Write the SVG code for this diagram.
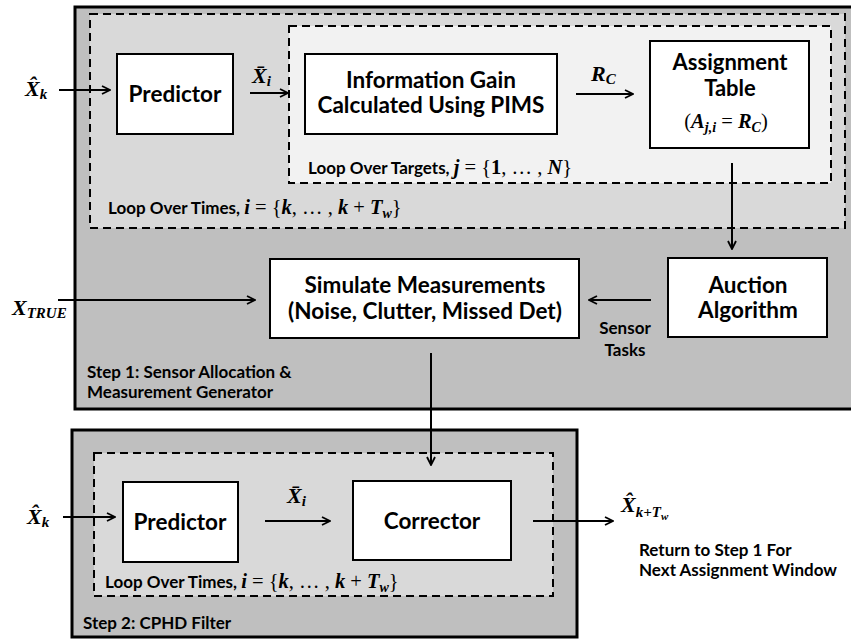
<svg xmlns="http://www.w3.org/2000/svg" width="851" height="639" viewBox="0 0 851 639">
<defs>
<marker id="ah" viewBox="0 0 10 10" refX="9" refY="5" markerWidth="10" markerHeight="10" markerUnits="userSpaceOnUse" orient="auto">
<path d="M1,1 L9,5 L1,9" fill="none" stroke="#000" stroke-width="1.8"/>
</marker>
<style>
.step{fill:#bfbfbf;stroke:#000;stroke-width:3}
.loop{fill:#d9d9d9;stroke:#000;stroke-width:2;stroke-dasharray:8 5}
.loop2{fill:#f2f2f2;stroke:#000;stroke-width:2;stroke-dasharray:8 5}
.box{fill:#fff;stroke:#000;stroke-width:2}
.t{font-family:"Lato","Liberation Sans",sans-serif;font-weight:bold;font-size:22.5px;fill:#000;text-anchor:middle}
.s{font-family:"Lato","Liberation Sans",sans-serif;font-weight:bold;font-size:17px;fill:#000}
.m{font-family:"Liberation Serif",serif;font-weight:bold;font-style:italic;font-size:22px;fill:#000}
.mi{font-family:"Liberation Serif",serif;font-weight:bold;font-style:italic}
.mn{font-family:"Liberation Serif",serif;font-style:normal;font-weight:normal}
.sub{font-size:15px}
.lm{font-size:20.5px}
.ls{font-size:14px}
.c line{stroke:#000;stroke-width:2;marker-end:url(#ah)}
</style>
</defs>
<g id="step1">
<rect class="step" x="75" y="7" width="795" height="402"/>
<text class="s" x="87" y="378">Step 1: Sensor Allocation &amp;</text>
<text class="s" x="87" y="398">Measurement Generator</text>
</g>
<g id="loop-times-1">
<rect class="loop" x="90" y="14" width="755" height="214"/>
<text class="s" x="108" y="214">Loop Over Times, <tspan class="mi lm">i</tspan><tspan class="mn lm"> = {</tspan><tspan class="mi lm">k</tspan><tspan class="mn lm">, … , </tspan><tspan class="mi lm">k</tspan><tspan class="mn lm"> + </tspan><tspan class="mi lm">T</tspan><tspan class="mi ls" dy="4">w</tspan><tspan class="mn lm" dy="-4">}</tspan></text>
</g>
<g id="loop-targets">
<rect class="loop2" x="289" y="26" width="542" height="157"/>
<text class="s" x="308" y="174">Loop Over Targets, <tspan class="mi lm">j</tspan><tspan class="mn lm"> = {</tspan><tspan class="mn lm" style="font-weight:bold">1</tspan><tspan class="mn lm">, … , </tspan><tspan class="mi lm">N</tspan><tspan class="mn lm">}</tspan></text>
</g>
<g id="predictor1">
<rect class="box" x="117" y="54" width="116" height="80"/>
<text class="t" x="175" y="102">Predictor</text>
</g>
<g id="info-gain">
<rect class="box" x="305" y="54" width="252" height="80"/>
<text class="t" x="431" y="88">Information Gain</text>
<text class="t" x="431" y="113">Calculated Using PIMS</text>
</g>
<g id="assignment-table">
<rect class="box" x="650" y="41" width="159" height="107"/>
<text class="t" x="730" y="70" style="font-size:22px">Assignment</text>
<text class="t" x="730" y="96" style="font-size:22px">Table</text>
<text x="726" y="128" text-anchor="middle" style="font-size:20.5px"><tspan class="mn">(</tspan><tspan class="mi">A</tspan><tspan class="mi" style="font-size:14px" dy="4">j,i</tspan><tspan class="mn" dy="-4"> = </tspan><tspan class="mi">R</tspan><tspan class="mi" style="font-size:14px" dy="4">C</tspan><tspan class="mn" dy="-4">)</tspan></text>
</g>
<g id="auction">
<rect class="box" x="668" y="258" width="159" height="79"/>
<text class="t" x="748" y="293">Auction</text>
<text class="t" x="748" y="318">Algorithm</text>
</g>
<g id="simulate">
<rect class="box" x="270" y="259" width="309" height="79"/>
<text class="t" x="425" y="293">Simulate Measurements</text>
<text class="t" x="425" y="319">(Noise, Clutter, Missed Det)</text>
</g>
<g id="step2">
<rect class="step" x="72" y="430" width="505" height="207"/>
<text class="s" x="83" y="629">Step 2: CPHD Filter</text>
</g>
<g id="loop-times-2">
<rect class="loop" x="94" y="453" width="459" height="143"/>
<text class="s" x="105" y="588">Loop Over Times, <tspan class="mi lm">i</tspan><tspan class="mn lm"> = {</tspan><tspan class="mi lm">k</tspan><tspan class="mn lm">, … , </tspan><tspan class="mi lm">k</tspan><tspan class="mn lm"> + </tspan><tspan class="mi lm">T</tspan><tspan class="mi ls" dy="4">w</tspan><tspan class="mn lm" dy="-4">}</tspan></text>
</g>
<g id="predictor2">
<rect class="box" x="123" y="482" width="115" height="80"/>
<text class="t" x="180" y="530">Predictor</text>
</g>
<g id="corrector">
<rect class="box" x="353" y="481" width="158" height="79"/>
<text class="t" x="432" y="529">Corrector</text>
</g>
<g id="connectors" class="c">
<line x1="59" y1="90" x2="110" y2="90"/>
<line x1="250" y1="93" x2="288" y2="93"/>
<line x1="576" y1="94" x2="633" y2="94"/>
<line x1="732" y1="163" x2="732" y2="249"/>
<line x1="651" y1="300" x2="589" y2="300"/>
<line x1="58" y1="300" x2="255" y2="300"/>
<line x1="431" y1="353" x2="431" y2="465"/>
<line x1="63" y1="517" x2="115" y2="517"/>
<line x1="265" y1="521" x2="330" y2="521"/>
<line x1="533" y1="521" x2="613" y2="521"/>
</g>
<g id="labels">
<text class="m" x="25" y="96">X̂<tspan class="sub" dy="3">k</tspan></text>
<text class="m" x="252" y="83">X̄<tspan class="sub" dy="3">i</tspan></text>
<text class="m" x="591" y="81">R<tspan class="sub" dy="3">C</tspan></text>
<text class="m" x="12" y="315">X<tspan class="sub" dy="3">TRUE</tspan></text>
<text class="s" x="625" y="334" text-anchor="middle">Sensor</text>
<text class="s" x="625" y="356" text-anchor="middle">Tasks</text>
<text class="m" x="27" y="524">X̂<tspan class="sub" dy="3">k</tspan></text>
<text class="m" x="287" y="503">X̄<tspan class="sub" dy="3">i</tspan></text>
<text class="m" x="621" y="512">X̂<tspan class="sub" dy="5">k+T</tspan><tspan style="font-size:11px" dy="3">w</tspan></text>
<text class="s" x="639" y="556">Return to Step 1 For</text>
<text class="s" x="639" y="576">Next Assignment Window</text>
</g>
</svg>
